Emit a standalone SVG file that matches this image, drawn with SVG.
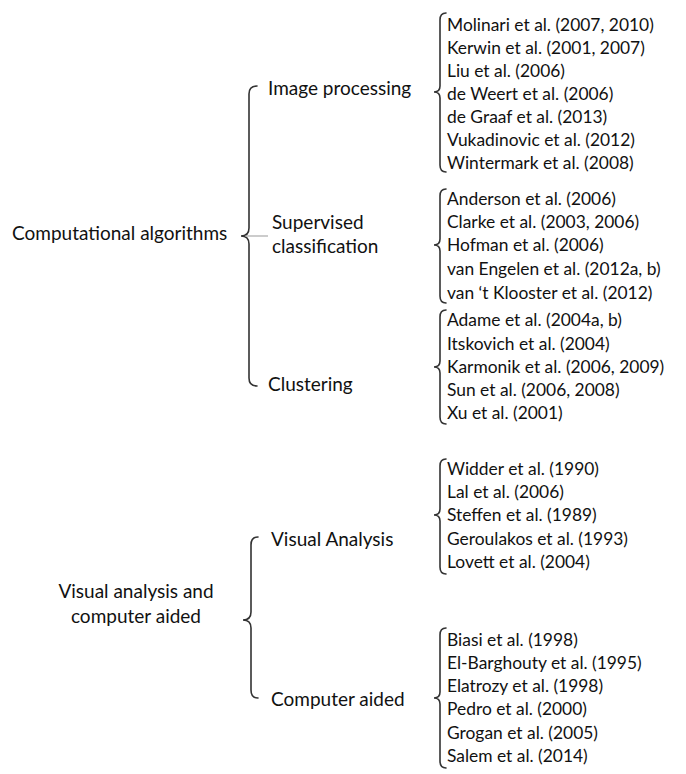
<svg xmlns="http://www.w3.org/2000/svg" width="686" height="774" viewBox="0 0 686 774">
<style>
text{font-family:Lato,"Liberation Sans",Arial,sans-serif;font-size:19px;fill:#111}
.r{font-size:17.4px}
.b{fill:none;stroke:#333;stroke-width:1.6;stroke-linecap:round}
.c{text-anchor:middle}
</style>
<rect width="686" height="774" fill="#fff"/>
<g id="connectors">
<path class="b" d="M257,86 Q249,86 249,94 L249,228 Q249,236 241,236 Q249,236 249,244 L249,378 Q249,386 257,386"/>
<path d="M245,236 L268,236" stroke="#999" stroke-width="1"/>
<path class="b" d="M258,537 Q251,537 251,545 L251,612 Q251,620 243,620 Q251,620 251,628 L251,690 Q251,698 258,698"/>
<path class="b" d="M446,13 Q440,13 440,20 L440,86 Q440,92 434,92 Q440,92 440,98 L440,165 Q440,172 446,172"/>
<path class="b" d="M446,189 Q440,189 440,196 L440,239 Q440,245 434,245 Q440,245 440,251 L440,296 Q440,303 446,303"/>
<path class="b" d="M446,310 Q440,310 440,317 L440,361 Q440,367 434,367 Q440,367 440,373 L440,417 Q440,424 446,424"/>
<path class="b" d="M446,459 Q440,459 440,466 L440,509 Q440,515 434,515 Q440,515 440,521 L440,567 Q440,574 446,574"/>
<path class="b" d="M446,628 Q440,628 440,635 L440,692 Q440,698 434,698 Q440,698 440,704 L440,761 Q440,768 446,768"/>
</g>
<g id="computational"><text x="12" y="240">Computational algorithms</text></g>
<g id="visual-computer"><text class="c" x="136" y="598">Visual analysis and</text><text class="c" x="136" y="623">computer aided</text></g>
<g id="image-processing"><text x="268" y="95">Image processing</text></g>
<g id="supervised"><text x="272" y="229">Supervised</text><text x="272" y="253">classification</text></g>
<g id="clustering"><text x="268" y="391">Clustering</text></g>
<g id="visual-analysis"><text x="271" y="546">Visual Analysis</text></g>
<g id="computer-aided"><text x="271" y="706">Computer aided</text></g>
<g id="refs-image" class="r">
<text class="r" x="447" y="31">Molinari et al. (2007, 2010)</text>
<text class="r" x="447" y="54">Kerwin et al. (2001, 2007)</text>
<text class="r" x="447" y="77">Liu et al. (2006)</text>
<text class="r" x="447" y="100">de Weert et al. (2006)</text>
<text class="r" x="447" y="123">de Graaf et al. (2013)</text>
<text class="r" x="447" y="146">Vukadinovic et al. (2012)</text>
<text class="r" x="447" y="169">Wintermark et al. (2008)</text>
</g>
<g id="refs-supervised">
<text class="r" x="447" y="205">Anderson et al. (2006)</text>
<text class="r" x="447" y="228">Clarke et al. (2003, 2006)</text>
<text class="r" x="447" y="251">Hofman et al. (2006)</text>
<text class="r" x="447" y="275">van Engelen et al. (2012a, b)</text>
<text class="r" x="447" y="299">van ‘t Klooster et al. (2012)</text>
</g>
<g id="refs-clustering">
<text class="r" x="447" y="326">Adame et al. (2004a, b)</text>
<text class="r" x="447" y="350">Itskovich et al. (2004)</text>
<text class="r" x="447" y="373">Karmonik et al. (2006, 2009)</text>
<text class="r" x="447" y="396">Sun et al. (2006, 2008)</text>
<text class="r" x="447" y="419">Xu et al. (2001)</text>
</g>
<g id="refs-visual">
<text class="r" x="447" y="475">Widder et al. (1990)</text>
<text class="r" x="447" y="498">Lal et al. (2006)</text>
<text class="r" x="447" y="521">Steffen et al. (1989)</text>
<text class="r" x="447" y="545">Geroulakos et al. (1993)</text>
<text class="r" x="447" y="568">Lovett et al. (2004)</text>
</g>
<g id="refs-computer">
<text class="r" x="447" y="646">Biasi et al. (1998)</text>
<text class="r" x="447" y="669">El-Barghouty et al. (1995)</text>
<text class="r" x="447" y="692">Elatrozy et al. (1998)</text>
<text class="r" x="447" y="715">Pedro et al. (2000)</text>
<text class="r" x="447" y="739">Grogan et al. (2005)</text>
<text class="r" x="447" y="762">Salem et al. (2014)</text>
</g>
</svg>
